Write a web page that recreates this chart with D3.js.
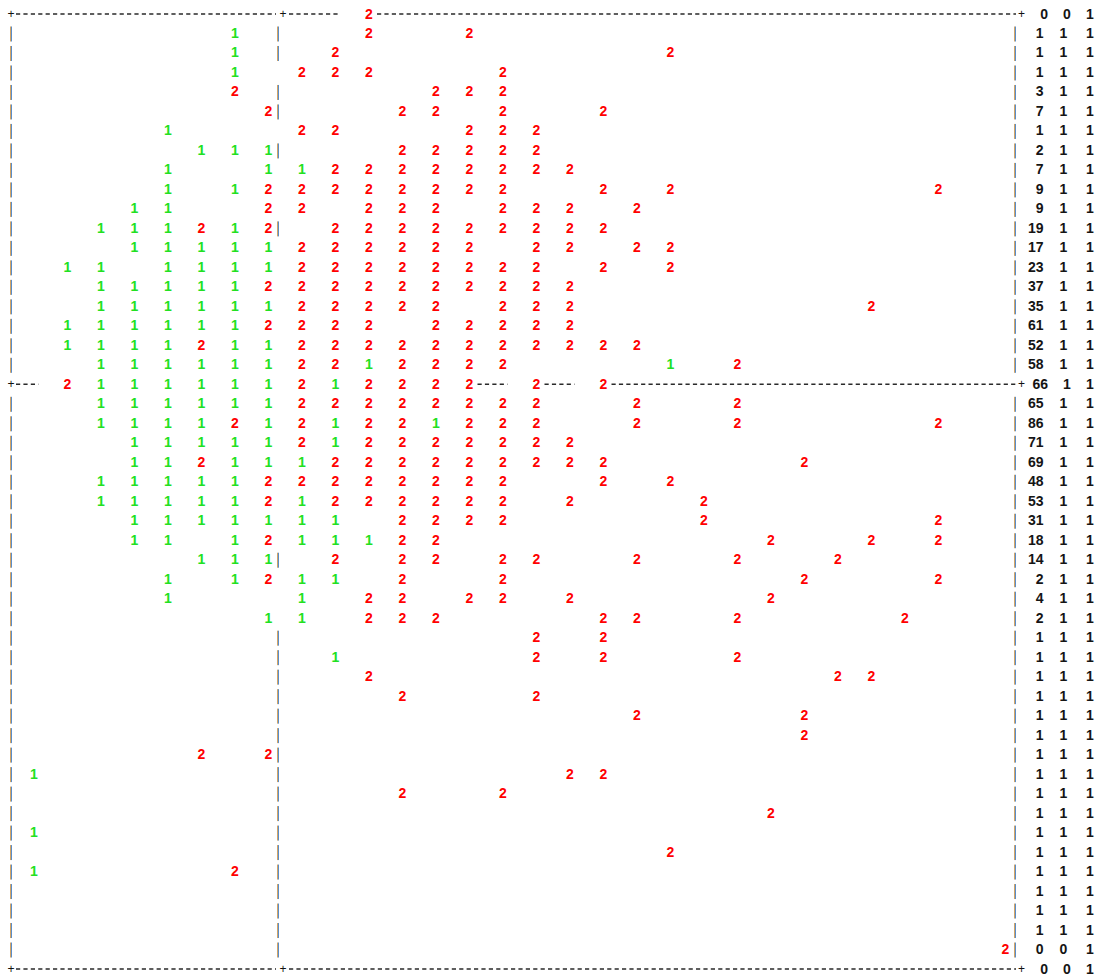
<!DOCTYPE html>
<html>
<head>
<meta charset="utf-8">
<script src="https://cdn.jsdelivr.net/npm/d3@7"></script>
<style>
  html, body { margin: 0; padding: 0; background: #ffffff; }
  svg { display: block; }
</style>
</head>
<body>
<svg id="chart" width="1097" height="976"></svg>
<script>
// Class map: one string per line, 30 cells in groups of ten
// ('.' = blank, '1' / '2' = class code)
const gridRows = [
  ".......... 2......... ..........",
  "......1... 2..2...... ..........",
  "......1..2 .........2 ..........",
  "......1.22 2...2..... ..........",
  "......2... ..222..... ..........",
  ".......2.. .22.2..2.. ..........",
  "....1...22 ...222.... ..........",
  ".....111.. .22222.... ..........",
  "....1..112 2222222... ..........",
  "....1.1222 22222..2.2 .......2..",
  "...11..22. 222.222.2. ..........",
  "..111212.2 22222222.. ..........",
  "...1111122 2222.22.22 ..........",
  ".11.111122 222222.2.2 ..........",
  "..11111222 2222222... ..........",
  "..11111122 222.222... .....2....",
  ".111111222 2.22222... ..........",
  ".111121122 222222222. ..........",
  "..11111122 12222....1 .2........",
  ".211111121 2222.2.2.. ..........",
  "..11111122 222222..2. .2........",
  "..11112121 221222..2. .2.....2..",
  "...1111121 2222222... ..........",
  "...1121112 22222222.. ...2......",
  "..11111222 22222..2.2 ..........",
  "..11111212 22222.2... 2.........",
  "...1111111 .2222..... 2......2..",
  "...11.1211 122....... ..2..2.2..",
  ".....111.2 .22.22..2. .2..2.....",
  "....1.1211 .2..2..... ...2...2..",
  "....1...1. 22.22.2... ..2.......",
  ".......11. 222....22. .2....2...",
  ".......... .....2.2.. ..........",
  ".........1 .....2.2.. .2........",
  ".......... 2......... ....22....",
  ".......... .2...2.... ..........",
  ".......... ........2. ...2......",
  ".......... .......... ...2......",
  ".....2.2.. .......... ..........",
  "1......... ......22.. ..........",
  ".......... .2..2..... ..........",
  ".......... .......... ..2.......",
  "1......... .......... ..........",
  ".......... .........2 ..........",
  "1.....2... .......... ..........",
  ".......... .......... ..........",
  ".......... .......... ..........",
  ".......... .......... ..........",
  ".......... .......... .........2",
  ".......... .......... .........."
].map(s => s.replace(/ /g, ""));

// Side columns printed after the frame
const rowCounts = [0, 1, 1, 1, 3, 7, 1, 2, 7, 9, 9, 19, 17, 23, 37, 35, 61, 52, 58, 66,
                   65, 86, 71, 69, 48, 53, 31, 18, 14, 2, 4, 2, 1, 1, 1, 1, 1, 1, 1, 1,
                   1, 1, 1, 1, 1, 1, 1, 1, 0, 0];
const rowFlagA = [0, 1, 1, 1, 1, 1, 1, 1, 1, 1, 1, 1, 1, 1, 1, 1, 1, 1, 1, 1,
                  1, 1, 1, 1, 1, 1, 1, 1, 1, 1, 1, 1, 1, 1, 1, 1, 1, 1, 1, 1,
                  1, 1, 1, 1, 1, 1, 1, 1, 0, 0];
const rowFlagB = [1, 1, 1, 1, 1, 1, 1, 1, 1, 1, 1, 1, 1, 1, 1, 1, 1, 1, 1, 1,
                  1, 1, 1, 1, 1, 1, 1, 1, 1, 1, 1, 1, 1, 1, 1, 1, 1, 1, 1, 1,
                  1, 1, 1, 1, 1, 1, 1, 1, 1, 1];

// Lines printed as dashed rules
const ruleRows = [0, 19, 49];
// The inner divider sits in front of this cell column
const splitCol = 9;

const nCols = gridRows[0].length;
const nRows = gridRows.length;

const x = d3.scaleLinear().domain([1, nCols]).range([34, 1005.5]);
const y = d3.scaleLinear().domain([0, nRows - 1]).range([13, 968]);

const svg = d3.select("#chart");
const font = "'Liberation Sans', Arial, Helvetica, sans-serif";
const classColour = { "1": "#22e022", "2": "#ff0000" };

const isRule = r => ruleRows.includes(r);
const splitOpen = r => gridRows[r][splitCol - 1] === ".";

// ---- dashed rules -------------------------------------------------------
const leftEdge = 16, rightEdge = 1016, splitL = 276, splitR = 289;
const dashSegs = [];
ruleRows.forEach(r => {
  const row = gridRows[r];
  let c = 1;
  while (c <= nCols) {
    if (row[c - 1] !== ".") { c++; continue; }
    let b = c;
    while (b < nCols && row[b] === ".") b++;
    const x0 = c === 1 ? leftEdge : x(c - 1) + 8;
    const x1 = b === nCols ? rightEdge : x(b) + 4.5;
    if (splitOpen(r) && x0 < splitR && x1 > splitL) {
      if (x0 < splitL) dashSegs.push({ r, x0, x1: splitL });
      if (x1 > splitR) dashSegs.push({ r, x0: Math.max(x0, splitR), x1 });
    } else {
      dashSegs.push({ r, x0, x1 });
    }
    c = b + 1;
  }
});

svg.append("g").attr("class", "rules")
  .selectAll("line").data(dashSegs).join("line")
  .attr("x1", d => d.x0).attr("x2", d => d.x1)
  .attr("y1", d => y(d.r) + 1).attr("y2", d => y(d.r) + 1)
  .attr("stroke", "#2a2a2a")
  .attr("stroke-width", 1.6)
  .attr("stroke-dasharray", "4.2,3.2");

// ---- '+' joints on the rules ------------------------------------------------
const joints = [];
ruleRows.forEach(r => {
  joints.push({ r, px: 11 }, { r, px: 1021.5 });
  if (splitOpen(r)) joints.push({ r, px: 283 });
});
svg.append("g").attr("class", "joints")
  .selectAll("text").data(joints).join("text")
  .attr("x", d => d.px).attr("y", d => y(d.r) + 5)
  .attr("text-anchor", "middle")
  .attr("font-family", font).attr("font-size", 12)
  .attr("fill", "#111")
  .text("+");

// ---- vertical bars of the frame --------------------------------------------
const bars = [];
d3.range(nRows).filter(r => !isRule(r)).forEach(r => {
  bars.push({ r, px: 10 }, { r, px: 1014 });
  if (splitOpen(r)) bars.push({ r, px: 277 });
});
const barG = svg.append("g").attr("class", "bars");
barG.selectAll("rect.l").data(bars).join("rect").attr("class", "l")
  .attr("x", d => d.px).attr("width", 1)
  .attr("y", d => y(d.r) - 6).attr("height", 15)
  .attr("fill", "#d2a466");
barG.selectAll("rect.r").data(bars).join("rect").attr("class", "r")
  .attr("x", d => d.px + 1).attr("width", 1)
  .attr("y", d => y(d.r) - 6).attr("height", 15)
  .attr("fill", "#5b8dc8");

// ---- class codes --------------------------------------------------------------
const cells = [];
gridRows.forEach((row, r) => {
  [...row].forEach((ch, i) => {
    if (ch !== ".") cells.push({ r, c: i + 1, v: ch });
  });
});
svg.append("g").attr("class", "cells")
  .selectAll("text").data(cells).join("text")
  .attr("x", d => x(d.c)).attr("y", d => y(d.r) + 5.5)
  .attr("text-anchor", "middle")
  .attr("font-family", font).attr("font-size", 14).attr("font-weight", "bold")
  .attr("fill", d => classColour[d.v])
  .text(d => d.v);

// ---- side columns -----------------------------------------------------------
const side = svg.append("g").attr("class", "side")
  .attr("font-family", font).attr("font-size", 14).attr("font-weight", "bold")
  .attr("fill", "#151515");
side.selectAll("text.count").data(rowCounts).join("text").attr("class", "count")
  .attr("x", (d, r) => isRule(r) ? 1048 : 1043.5)
  .attr("y", (d, r) => y(r) + 5.5)
  .attr("text-anchor", "end")
  .text(d => d);
side.selectAll("text.fa").data(rowFlagA).join("text").attr("class", "fa")
  .attr("x", (d, r) => isRule(r) ? 1067 : 1063.5)
  .attr("y", (d, r) => y(r) + 5.5)
  .attr("text-anchor", "middle")
  .text(d => d);
side.selectAll("text.fb").data(rowFlagB).join("text").attr("class", "fb")
  .attr("x", 1090)
  .attr("y", (d, r) => y(r) + 5.5)
  .attr("text-anchor", "middle")
  .text(d => d);
</script>
</body>
</html>
